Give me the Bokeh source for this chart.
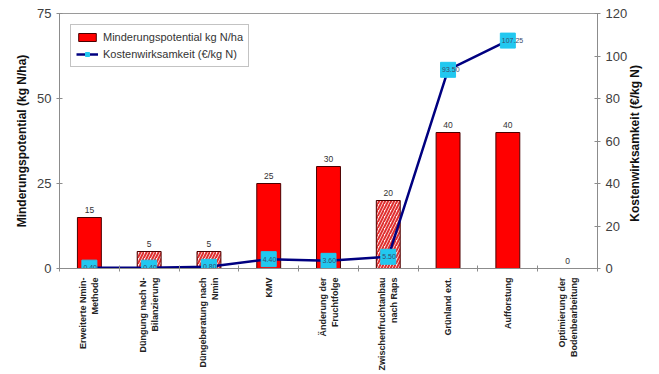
import math
from bokeh.plotting import figure
from bokeh.models import Range1d, LinearAxis, FixedTicker, Legend, LegendItem, ColumnDataSource
from bokeh.core.properties import value
from bokeh.embed import file_html
from bokeh.resources import INLINE

# ---- data ----
categories = ["Erweiterte Nmin-\nMethode", "Düngung nach N-\nBilanzierung", "Düngeberatung nach\nNmin",
              "KMV", "Änderung der\nFruchtfolge", "Zwischenfruchtanbau\nnach Raps",
              "Grünland ext.", "Aufforstung", "Optimierung der\nBodenbearbeitung"]
potential = [15, 5, 5, 25, 30, 20, 40, 40, 0]
hatched = [False, True, True, False, False, True, False, False, False]
cost = [0.40, 0.40, 0.80, 4.40, 3.60, 5.50, 93.50, 107.25, None]
cost_labels = ["0.40", "0.40", "0.80", "4.40", "3.60", "5.50", "93.50", "107.25", ""]
left_ticks = [0, 25, 50, 75]
right_ticks = [0, 20, 40, 60, 80, 100, 120]
left_title = "Minderungspotential (kg N/ha)"
right_title = "Kostenwirksamkeit (€/kg N)"

FONT = "Liberation Sans"
TICK_COLOR = "#404040"

n = len(categories)
xs = [i + 0.5 for i in range(n)]

p = figure(width=659, height=374, output_backend="svg", toolbar_location=None,
           x_range=Range1d(0, n), y_range=Range1d(0, 75),
           min_border_left=59, min_border_right=62, min_border_top=13, min_border_bottom=106)
p.extra_y_ranges = {"cost": Range1d(0, 120)}
p.xgrid.visible = False
p.ygrid.visible = False
p.outline_line_color = "#9a9a9a"
p.background_fill_color = "white"
p.border_fill_color = "white"

# bars
solid = ColumnDataSource(dict(x=[x for x, h in zip(xs, hatched) if not h],
                              top=[v for v, h in zip(potential, hatched) if not h]))
hat = ColumnDataSource(dict(x=[x for x, h in zip(xs, hatched) if h],
                            top=[v for v, h in zip(potential, hatched) if h]))
bar_r = p.vbar(x="x", top="top", width=0.4, source=solid, fill_color="#FF0000",
               line_color="#4a0000", line_width=1)
p.vbar(x="x", top="top", width=0.4, source=hat, fill_color="#fff0f0",
       line_color="#4a0000", line_width=1, hatch_pattern="/", hatch_color="#e03030",
       hatch_scale=6, hatch_weight=2)

# bar value labels
p.text(x=xs, y=potential, text=[str(v) for v in potential], text_align="center",
       text_baseline="bottom", y_offset=-5, text_font=value(FONT), text_font_size="8.5px",
       text_color="#333333")

# cost line
cx = [x for x, c in zip(xs, cost) if c is not None]
cy = [c for c in cost if c is not None]
cl = [l for l, c in zip(cost_labels, cost) if c is not None]
line_r = p.line(cx, cy, y_range_name="cost", line_color="#000080", line_width=2.5)
sq_r = p.scatter(cx, cy, y_range_name="cost", marker="square", size=15,
                 fill_color="#22C8F0", line_color="#22C8F0")
p.text(x=cx, y=cy, text=cl, y_range_name="cost", text_align="left", text_baseline="middle",
       x_offset=-6, text_font=value(FONT), text_font_size="7px", text_color="#3a4a6a")

# x axis: labels at category centres, tick marks at category boundaries
xa = p.xaxis[0]
xa.ticker = FixedTicker(ticks=xs, minor_ticks=list(range(n + 1)))
xa.major_label_overrides = {x: c for x, c in zip(xs, categories)}
xa.major_label_orientation = math.pi / 2
xa.major_label_text_font = FONT
xa.major_label_text_font_style = "bold"
xa.major_label_text_font_size = "9px"
xa.major_label_text_color = "#222222"
xa.major_label_standoff = 6
xa.axis_line_color = "#8c8c8c"
xa.major_tick_line_color = None
xa.major_tick_in = 0
xa.major_tick_out = 3
xa.minor_tick_line_color = "#8c8c8c"
xa.minor_tick_in = 3
xa.minor_tick_out = 3

ya = p.yaxis[0]
ya.ticker = FixedTicker(ticks=left_ticks)
ya.axis_label = left_title

ra = LinearAxis(y_range_name="cost", ticker=FixedTicker(ticks=right_ticks))
p.add_layout(ra, "right")
for ax in [ya, ra]:
    ax.axis_line_color = "#8c8c8c"
    ax.major_tick_line_color = "#8c8c8c"
    ax.minor_tick_line_color = None
    ax.major_tick_in = 3
    ax.major_tick_out = 3
    ax.major_label_text_font = FONT
    ax.major_label_text_font_size = "13px"
    ax.major_label_text_color = TICK_COLOR
    ax.axis_label_text_font = FONT
    ax.axis_label_text_font_style = "bold"
    ax.axis_label_text_font_size = "12px"
    ax.axis_label_text_color = "#111111"
    ax.axis_label_standoff = 5

# right-hand title, reading bottom-to-top: drawn as a single rotated tick label
# anchored below the middle of the frame so the text is centred vertically
title_anchor = 22
rt = LinearAxis(y_range_name="cost", ticker=FixedTicker(ticks=[title_anchor]),
                major_label_overrides={title_anchor: right_title})
rt.major_label_orientation = math.pi / 2
rt.axis_line_color = None
rt.major_tick_line_color = None
rt.minor_tick_line_color = None
rt.major_tick_in = 0
rt.major_tick_out = 0
rt.major_label_standoff = 4
rt.major_label_text_font = FONT
rt.major_label_text_font_style = "bold"
rt.major_label_text_font_size = "12px"
rt.major_label_text_color = "#111111"
p.add_layout(rt, "right")

legend = Legend(items=[LegendItem(label="Minderungspotential kg N/ha", renderers=[bar_r]),
                       LegendItem(label="Kostenwirksamkeit (€/kg N)", renderers=[line_r, sq_r])],
                location="top_left", margin=11, padding=5, spacing=3,
                label_text_font=FONT, label_text_font_size="11px", label_text_color="#333333",
                glyph_width=22, glyph_height=10, label_height=14,
                border_line_color="#888888", border_line_width=1, background_fill_alpha=1)
p.add_layout(legend)

open("out.html", "w").write(file_html(p, INLINE))
